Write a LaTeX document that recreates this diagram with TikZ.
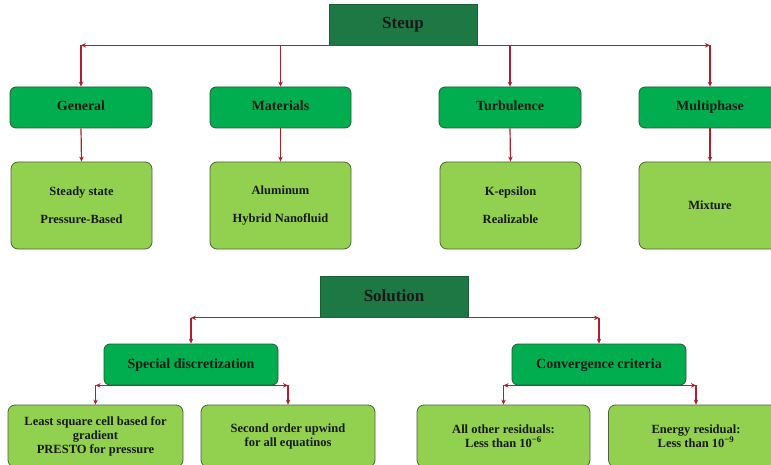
\documentclass[tikz,border=0pt]{standalone}
\usepackage{fontspec}
\setmainfont{Liberation Serif}
\usetikzlibrary{arrows.meta}
\definecolor{darkbox}{RGB}{30,120,68}
\definecolor{midbox}{RGB}{0,174,80}
\definecolor{lightbox}{RGB}{146,208,80}
\definecolor{arrowred}{RGB}{172,34,44}
\definecolor{midedge}{RGB}{40,90,48}
\definecolor{lightedge}{RGB}{78,98,58}
\begin{document}
\begin{tikzpicture}[x=1pt,y=-1pt,
  topbox/.style={draw=darkbox!80!black, fill=darkbox, line width=0.6pt, minimum width=148pt, minimum height=41pt, inner sep=0pt, text height=12pt, text depth=4pt, text=black!90, font=\bfseries\fontsize{17}{20}\selectfont},
  catbox/.style={rounded corners=6pt, draw=midedge, fill=midbox, line width=0.8pt, minimum height=41pt, inner sep=0pt, text height=10pt, text depth=3pt, text=black!90, font=\bfseries\fontsize{14}{16}\selectfont},
  itembox/.style={rounded corners=7pt, draw=lightedge, fill=lightbox, line width=0.8pt, minimum width=141pt, minimum height=87pt, inner sep=0pt, align=center, text=black!90, font=\bfseries\fontsize{12.5}{15}\selectfont},
  leafbox/.style={rounded corners=7pt, draw=lightedge, fill=lightbox, line width=0.8pt, minimum width=175pt, minimum height=62pt, inner sep=0pt, align=center, text=black!90, font=\bfseries\fontsize{12.5}{14}\selectfont},
  arr/.style={draw=arrowred, line width=1.2pt, -{Stealth[length=5pt,width=4.5pt]}}
]
\useasboundingbox (0,0) rectangle (771,465);
\clip (0,0) rectangle (771,465);
\fill[white] (0,0) rectangle (771,465);

% Setup part
\node[topbox] (steup) at (403,24.5) {Steup};
\node[catbox, minimum width=142pt] (general) at (81,107.5) {General};
\node[catbox, minimum width=141pt] (materials) at (280.5,107.5) {Materials};
\node[catbox, minimum width=142pt] (turbulence) at (510,107.5) {Turbulence};
\node[catbox, minimum width=142pt] (multiphase) at (710,107.5) {Multiphase};

\node[itembox] (steady) at (81.5,205.5) {Steady state\\[13pt]Pressure-Based};
\node[itembox] (alum) at (280.5,205.5) {Aluminum\\[13pt]Hybrid Nanofluid};
\node[itembox] (keps) at (510.5,205.5) {K-epsilon\\[13pt]Realizable};
\node[itembox, minimum width=142pt] (mixture) at (710,205.5) {Mixture};

\coordinate (sL) at (general.north |- steup.south);
\coordinate (sR) at (multiphase.north |- steup.south);
\draw[arr] (steup.south) -- (sL);
\draw[arr] (steup.south) -- (sR);
\draw[arr] (sL) -- (general.north);
\draw[arr] (materials.north |- steup.south) -- (materials.north);
\draw[arr] (turbulence.north |- steup.south) -- (turbulence.north);
\draw[arr] (sR) -- (multiphase.north);

\draw[arr] (general.south) -- (steady.north);
\draw[arr] (materials.south) -- (alum.north);
\draw[arr] (turbulence.south) -- (keps.north);
\draw[arr] (multiphase.south) -- (mixture.north);

% Solution part
\node[topbox] (solution) at (394,297) {Solution};
\node[catbox, minimum width=174pt] (special) at (191,364.5) {Special discretization};
\node[catbox, minimum width=174pt] (conv) at (599,364.5) {Convergence criteria};

\node[leafbox] (least) at (95.5,436) {Least square cell based for\\gradient\\PRESTO for pressure};
\node[leafbox, minimum width=174pt] (second) at (288,436) {Second order upwind\\for all equatinos};
\node[leafbox, minimum width=173pt] (other) at (503.5,436) {All other residuals:\\Less than 10\textsuperscript{−6}};
\node[leafbox] (energy) at (696,436) {Energy residual:\\Less than 10\textsuperscript{−9}};

\coordinate (tL) at (special.north |- solution.south);
\coordinate (tR) at (conv.north |- solution.south);
\draw[arr] (solution.south) -- (tL);
\draw[arr] (solution.south) -- (tR);
\draw[arr] (tL) -- (special.north);
\draw[arr] (tR) -- (conv.north);

\coordinate (uL) at (least.north |- special.south);
\coordinate (uR) at (second.north |- special.south);
\draw[arr] (special.south) -- (uL);
\draw[arr] (special.south) -- (uR);
\draw[arr] (uL) -- (least.north);
\draw[arr] (uR) -- (second.north);

\coordinate (vL) at (other.north |- conv.south);
\coordinate (vR) at (energy.north |- conv.south);
\draw[arr] (conv.south) -- (vL);
\draw[arr] (conv.south) -- (vR);
\draw[arr] (vL) -- (other.north);
\draw[arr] (vR) -- (energy.north);
\end{tikzpicture}
\end{document}
